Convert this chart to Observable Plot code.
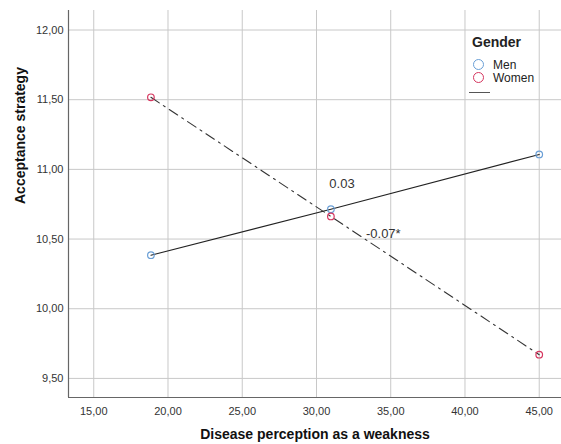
<!DOCTYPE html>
<html>
<head>
<meta charset="utf-8">
<script src="https://cdn.jsdelivr.net/npm/d3@7"></script>
<script src="https://cdn.jsdelivr.net/npm/@observablehq/plot@0.6"></script>
<style>
  html, body { margin: 0; padding: 0; background: #fff; }
  #wrap { position: relative; width: 561px; height: 444px; font-family: "Liberation Sans", Arial, sans-serif; }
  #legend { position: absolute; left: 468px; top: 34px; color: #222; }
  #legend .title { font-weight: bold; font-size: 14px; margin-left: 4px; margin-bottom: 8px; line-height: 16px; }
  #legend .row { display: flex; align-items: center; font-size: 12px; height: 13px; }
  #legend .dot { width: 9px; height: 9px; border-radius: 50%; border: 1.3px solid; margin-left: 5px; margin-right: 9px; box-sizing: content-box; }
  #legend .swatch { width: 21px; border-top: 1.5px solid #555; margin-top: 8px; margin-left: 1px; }
</style>
</head>
<body>
<div id="wrap">
  <div id="chart"></div>
  <div id="legend"></div>
</div>
<script>
const xValues = [18.85, 30.97, 45.0];
const menValues = [10.384, 10.714, 11.107];
const womenValues = [11.517, 10.662, 9.670];
const xTicks = [15, 20, 25, 30, 35, 40, 45];
const yTicks = [9.5, 10, 10.5, 11, 11.5, 12];
const annotations = [
  {x: 31.72, y: 10.895, label: "0.03"},
  {x: 34.5, y: 10.535, label: "-0.07*"}
];
const groups = ["Men", "Women"];
const colors = {Men: "#6a9fd6", Women: "#d6365f"};

const data = [];
xValues.forEach((x, i) => {
  data.push({gender: "Men", x, y: menValues[i]});
  data.push({gender: "Women", x, y: womenValues[i]});
});
const men = data.filter(d => d.gender === "Men");
const women = data.filter(d => d.gender === "Women");

const xDomain = [13.3, 46.5];
const yDomain = [9.363, 12.14];
const fmt = d => d.toFixed(2).replace(".", ",");

const chart = Plot.plot({
  width: 561,
  height: 444,
  marginLeft: 68,
  marginRight: 0,
  marginTop: 10,
  marginBottom: 47,
  style: {fontFamily: "Liberation Sans, Arial, sans-serif", background: "#fff"},
  x: {domain: xDomain},
  y: {domain: yDomain},
  marks: [
    Plot.gridX(xTicks, {stroke: "#c8c8c8", strokeOpacity: 1, strokeWidth: 1}),
    Plot.gridY(yTicks, {stroke: "#c8c8c8", strokeOpacity: 1, strokeWidth: 1}),
    Plot.axisX(xTicks, {tickSize: 0, tickPadding: 10, tickFormat: fmt, fontSize: 11, fill: "#333", label: null}),
    Plot.axisY(yTicks, {tickSize: 0, tickPadding: 5, tickFormat: fmt, fontSize: 11, fill: "#333", label: null}),
    Plot.ruleX([xDomain[0]], {stroke: "#666", strokeWidth: 1.2}),
    Plot.ruleY([yDomain[0]], {stroke: "#666", strokeWidth: 1.2}),
    Plot.line(men, {x: "x", y: "y", stroke: "#222", strokeWidth: 1.1}),
    Plot.line(women, {x: "x", y: "y", stroke: "#333", strokeWidth: 1.1, strokeDasharray: "10,5,2,5"}),
    Plot.dot(data, {x: "x", y: "y", r: 3.3, stroke: d => colors[d.gender], strokeWidth: 1.2, fill: "none"}),
    Plot.text(annotations, {x: "x", y: "y", text: "label", fontSize: 13, fill: "#333"}),
    Plot.text(["Disease perception as a weakness"], {frameAnchor: "bottom", lineAnchor: "middle", dy: 37, fontSize: 14, fontWeight: "bold", fill: "#111"}),
    Plot.text(["Acceptance strategy"], {frameAnchor: "left", dx: -48, rotate: -90, fontSize: 14, fontWeight: "bold", fill: "#111"})
  ]
});
document.getElementById("chart").appendChild(chart);

const legend = document.getElementById("legend");
legend.innerHTML = `<div class="title">Gender</div>` +
  groups.map(g => `<div class="row"><span class="dot" style="border-color:${colors[g]}"></span>${g}</div>`).join("") +
  `<div class="swatch"></div>`;
</script>
</body>
</html>
